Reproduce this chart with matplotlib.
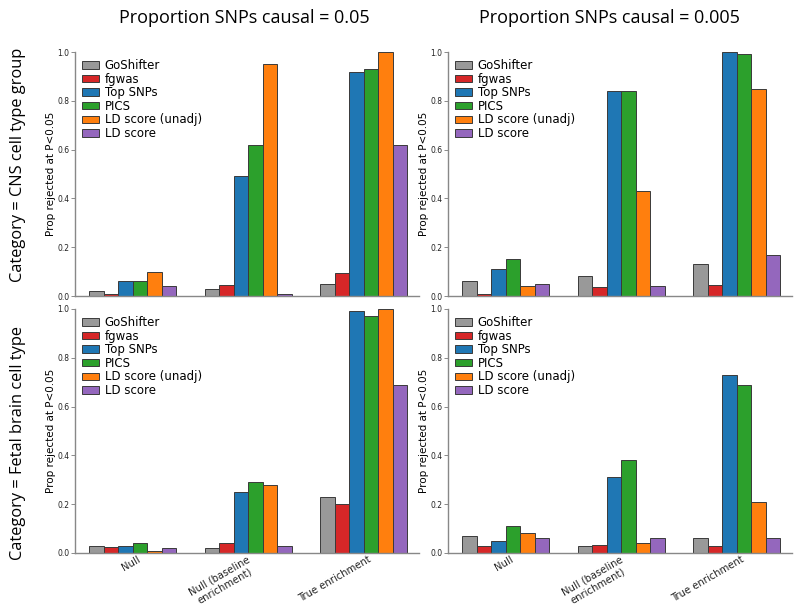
import numpy as np
import matplotlib
matplotlib.use("Agg")
import matplotlib.pyplot as plt

methods = ["GoShifter", "fgwas", "Top SNPs", "PICS", "LD score (unadj)", "LD score"]
colors = ["#999999", "#d62728", "#1f77b4", "#2ca02c", "#ff7f0e", "#9467bd"]
scenarios = ["Null", "Null (baseline\nenrichment)", "True enrichment"]

col_titles = ["Proportion SNPs causal = 0.05", "Proportion SNPs causal = 0.005"]
row_titles = ["Category = CNS cell type group", "Category = Fetal brain cell type"]

# rows: methods, columns: scenarios
cns_005 = [[0.02, 0.03, 0.05],
           [0.01, 0.045, 0.093],
           [0.06, 0.49, 0.92],
           [0.06, 0.62, 0.93],
           [0.10, 0.95, 1.00],
           [0.04, 0.01, 0.62]]
cns_0005 = [[0.06, 0.08, 0.13],
            [0.01, 0.036, 0.047],
            [0.11, 0.84, 1.00],
            [0.15, 0.84, 0.99],
            [0.04, 0.43, 0.85],
            [0.05, 0.04, 0.17]]
fetal_005 = [[0.03, 0.02, 0.23],
             [0.023, 0.04, 0.20],
             [0.03, 0.25, 0.99],
             [0.04, 0.29, 0.97],
             [0.01, 0.28, 1.00],
             [0.02, 0.03, 0.69]]
fetal_0005 = [[0.07, 0.03, 0.06],
              [0.03, 0.034, 0.027],
              [0.05, 0.31, 0.73],
              [0.11, 0.38, 0.69],
              [0.08, 0.04, 0.21],
              [0.06, 0.06, 0.06]]

panels = [[cns_005, cns_0005], [fetal_005, fetal_0005]]

W, H = 800, 604
fig = plt.figure(figsize=(8, 6.04), dpi=100)

ax_left = [75, 448]
ax_top = [52, 309]
ax_w, ax_h = 344, 244

width = 0.126
ind = np.arange(len(scenarios))


def draw_panel(ax, data):
    for i, (name, vals) in enumerate(zip(methods, data)):
        ax.bar(ind - 2.5 * width + i * width, vals, width, color=colors[i],
               edgecolor="#3a3a3a", linewidth=0.7, label=name)
    ax.set_xlim(-0.5, 2.48)
    ax.set_ylim(0, 1.0)
    ax.set_yticks([0, 0.2, 0.4, 0.6, 0.8, 1.0])
    ax.set_yticklabels(["0.0", "0.2", "0.4", "0.6", "0.8", "1.0"])
    ax.set_xticks(ind + 0.08)
    ax.set_xticklabels(scenarios, rotation=30, ha="right", fontsize=7.2, color="#222222",
                       multialignment="center", linespacing=1.15)
    ax.tick_params(axis="x", length=0, pad=1)
    ax.tick_params(axis="y", labelsize=5.5, length=3, width=0.6, colors="#777777",
                   labelcolor="#222222", pad=1)
    for s in ["top", "right"]:
        ax.spines[s].set_visible(False)
    for s in ["left", "bottom"]:
        ax.spines[s].set_color("#888888")
        ax.spines[s].set_linewidth(1.0)
    ax.set_ylabel("Prop rejected at P<0.05", fontsize=7.5, labelpad=1)
    ax.legend(loc="upper left", frameon=False, fontsize=8.5, handlelength=1.4,
              handleheight=0.6, labelspacing=0.05, handletextpad=0.5,
              borderaxespad=0.2, bbox_to_anchor=(0.0, 1.0))


for r in range(2):
    for c in range(2):
        ax = fig.add_axes([ax_left[c] / W, 1 - (ax_top[r] + ax_h) / H, ax_w / W, ax_h / H])
        draw_panel(ax, panels[r][c])
        if r == 0:
            ax.set_xticklabels([])

for c, t in enumerate(col_titles):
    fig.text([244, 609][c] / W, 1 - 18 / H, t, ha="center", va="center",
             fontsize=13, family="Open Sans")
for r, t in enumerate(row_titles):
    fig.text(18 / W, 1 - [165, 443][r] / H, t, ha="center", va="center",
             rotation=90, fontsize=11.8, family="Open Sans")

fig.savefig("out.png", dpi=100)
